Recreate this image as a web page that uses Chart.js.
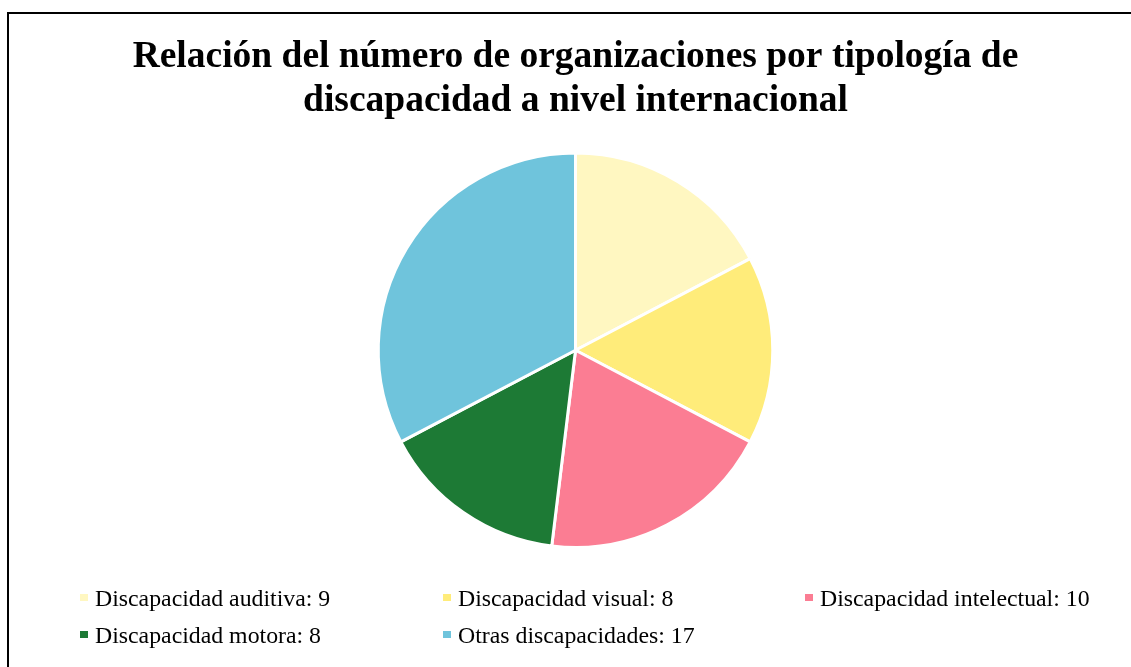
<!DOCTYPE html>
<html>
<head>
<meta charset="utf-8">
<script src="https://cdn.jsdelivr.net/npm/chart.js@4"></script>
<style>
html,body{margin:0;padding:0;background:#fff;overflow:hidden;}
canvas{display:block;}
</style>
</head>
<body>
<canvas id="c" width="1131" height="667"></canvas>
<script>
const titleLines = ['Relación del número de organizaciones por tipología de', 'discapacidad a nivel internacional'];
const categories = ['Discapacidad auditiva', 'Discapacidad visual', 'Discapacidad intelectual', 'Discapacidad motora', 'Otras discapacidades'];
const values = [9, 8, 10, 8, 17];
const colors = ['#FFF7C1', '#FFEC7A', '#FB7D93', '#1D7A35', '#6FC4DC'];

const frameAndLegend = {
  id: 'frameAndLegend',
  beforeDraw(chart) {
    const ctx = chart.ctx;
    ctx.save();
    ctx.fillStyle = '#fff';
    ctx.fillRect(0, 0, chart.width, chart.height);
    ctx.strokeStyle = '#000';
    ctx.lineWidth = 2;
    ctx.strokeRect(8, 13, 1200, 1000);
    ctx.restore();
  },
  afterDraw(chart) {
    const ctx = chart.ctx;
    const colX = [80, 443, 805];
    const rowY = [606, 643];
    ctx.save();
    ctx.font = '23.8px "Liberation Serif", "Times New Roman", serif';
    ctx.textBaseline = 'alphabetic';
    ctx.textAlign = 'left';
    categories.forEach((c, i) => {
      const x = colX[i % 3];
      const y = rowY[Math.floor(i / 3)];
      ctx.fillStyle = colors[i];
      ctx.fillRect(x, y - 12, 8, 7);
      ctx.fillStyle = '#000';
      ctx.fillText(c + ': ' + values[i], x + 15, y);
    });
    ctx.restore();
  }
};

new Chart(document.getElementById('c'), {
  type: 'pie',
  data: {
    labels: categories,
    datasets: [{
      data: values,
      backgroundColor: colors,
      borderColor: '#ffffff',
      borderWidth: 3
    }]
  },
  options: {
    responsive: false,
    animation: false,
    devicePixelRatio: 1,
    layout: { padding: { left: 20, right: 0, top: 0, bottom: 118 } },
    plugins: {
      legend: { display: false },
      tooltip: { enabled: false },
      title: {
        display: true,
        text: titleLines,
        color: '#000',
        font: { family: '"Liberation Serif", "Times New Roman", serif', size: 37.5, weight: 'bold', lineHeight: 1.173 },
        padding: { top: 35, bottom: 28.5 }
      }
    }
  },
  plugins: [frameAndLegend]
});
</script>
</body>
</html>
